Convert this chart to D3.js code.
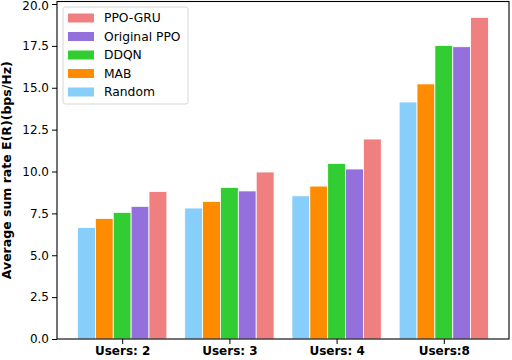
<!DOCTYPE html>
<html>
<head>
<meta charset="utf-8">
<script src="https://cdn.jsdelivr.net/npm/d3@7"></script>
<style>
  body { margin: 0; background: #fff; }
  svg { display: block; font-family: "DejaVu Sans", sans-serif; }
</style>
</head>
<body>
<svg id="chart"></svg>
<script>
// Data
const groups = ["Users: 2", "Users: 3", "Users: 4", "Users:8"];
const methods = ["Random", "MAB", "DDQN", "Original PPO", "PPO-GRU"];
const colors = ["#87CEFA", "#FF8C00", "#32CD32", "#9370DB", "#F08080"];
const random = [6.65, 7.82, 8.55, 14.15];
const mab = [7.2, 8.21, 9.13, 15.23];
const ddqn = [7.56, 9.05, 10.48, 17.52];
const originalPPO = [7.92, 8.84, 10.15, 17.45];
const ppoGru = [8.8, 9.97, 11.94, 19.2];
const yTicks = [0, 2.5, 5, 7.5, 10, 12.5, 15, 17.5, 20];

const series = [random, mab, ddqn, originalPPO, ppoGru];

// Layout
const width = 512, height = 360;
const margin = { left: 57, right: 3, top: 1.5, bottom: 21 };
const barW = 1 / 6;

const svg = d3.select("#chart").attr("width", width).attr("height", height);

const x = d3.scaleLinear()
  .domain([-0.608, groups.length - 1 + 0.608])
  .range([margin.left, width - margin.right]);
const y = d3.scaleLinear()
  .domain([0, 20.15])
  .range([height - margin.bottom, margin.top]);

// Bars
series.forEach((vals, i) => {
  svg.append("g")
    .selectAll("rect")
    .data(vals)
    .join("rect")
      .attr("x", (d, g) => x(g + (i - 2) * barW - barW / 2))
      .attr("width", x(barW) - x(0))
      .attr("y", d => y(d))
      .attr("height", d => y(0) - y(d))
      .attr("fill", colors[i])
      .attr("stroke", "#fff")
      .attr("stroke-width", 0.8);
});

// Axes
const yAxis = d3.axisLeft(y).tickValues(yTicks).tickFormat(d3.format(".1f")).tickSize(5).tickPadding(3);
const xAxis = d3.axisBottom(x).tickValues(d3.range(groups.length)).tickFormat(i => groups[i]).tickSize(5).tickPadding(2);

const gy = svg.append("g").attr("transform", `translate(${margin.left},0)`).call(yAxis);
gy.select(".domain").remove();
gy.selectAll("text").attr("font-size", 12).attr("fill", "#000").attr("font-family", "DejaVu Sans");
gy.selectAll("line").attr("stroke", "#000");
// keep the top label inside the picture
gy.selectAll(".tick").filter(d => d === 20).select("text").attr("dy", "0.42em");

const gx = svg.append("g").attr("transform", `translate(0,${height - margin.bottom})`).call(xAxis);
gx.select(".domain").remove();
gx.selectAll("text").attr("font-size", 12).attr("font-weight", "bold").attr("fill", "#000").attr("font-family", "DejaVu Sans");
gx.selectAll("line").attr("stroke", "#000");

// Frame
svg.append("rect")
  .attr("x", margin.left)
  .attr("y", margin.top)
  .attr("width", width - margin.right - margin.left)
  .attr("height", height - margin.bottom - margin.top)
  .attr("fill", "none")
  .attr("stroke", "#000")
  .attr("stroke-width", 1.1);

// Y label
svg.append("text")
  .attr("transform", `translate(11,${(margin.top + height - margin.bottom) / 2}) rotate(-90)`)
  .attr("text-anchor", "middle")
  .attr("font-size", 12.5)
  .attr("font-weight", "bold")
  .text("Average sum rate E(R)(bps/Hz)");

// Legend (reverse order)
const legend = svg.append("g").attr("transform", "translate(63,7)");
legend.append("rect")
  .attr("width", 125).attr("height", 97).attr("rx", 2.5)
  .attr("fill", "#fff").attr("fill-opacity", 0.8)
  .attr("stroke", "#ccc").attr("stroke-width", 0.8);
const order = d3.range(methods.length).reverse();
order.forEach((m, r) => {
  const cy = 11 + r * 18.5;
  legend.append("rect")
    .attr("x", 5).attr("y", cy - 4.5).attr("width", 26).attr("height", 9)
    .attr("fill", colors[m]);
  legend.append("text")
    .attr("x", 41).attr("y", cy).attr("dy", "0.35em")
    .attr("font-size", 12.3)
    .text(methods[m]);
});
</script>
</body>
</html>
